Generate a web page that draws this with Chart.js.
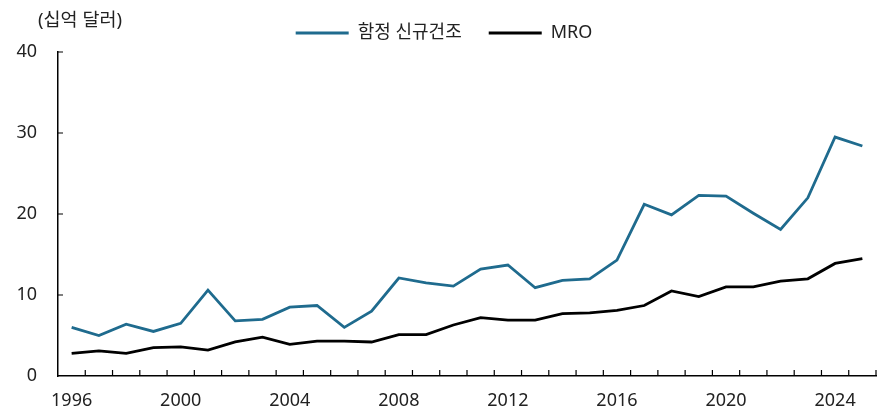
<!DOCTYPE html>
<html>
<head>
<meta charset="utf-8">
<script src="https://cdn.jsdelivr.net/npm/chart.js@4"></script>
<style>
  body { margin: 0; background: #fff; }
  #wrap { width: 878px; height: 409px; }
</style>
</head>
<body>
<div id="wrap"><canvas id="myChart" width="878" height="409"></canvas></div>
<script>
const years = [];
for (let y = 1996; y <= 2025; y++) years.push(String(y));

const newBuild = [6.0, 5.0, 6.4, 5.5, 6.5, 10.6, 6.8, 7.0, 8.5, 8.7,
                  6.0, 8.0, 12.1, 11.5, 11.1, 13.2, 13.7, 10.9, 11.8, 12.0,
                  14.3, 21.2, 19.9, 22.3, 22.2, 20.1, 18.1, 22.0, 29.5, 28.4];
const mro = [2.8, 3.1, 2.8, 3.5, 3.6, 3.2, 4.2, 4.8, 3.9, 4.3,
             4.3, 4.2, 5.1, 5.1, 6.3, 7.2, 6.9, 6.9, 7.7, 7.8,
             8.1, 8.7, 10.5, 9.8, 11.0, 11.0, 11.7, 12.0, 13.9, 14.5];
const seriesNames = ["함정 신규건조", "MRO"];
const yTicks = [0, 10, 20, 30, 40];
const unitLabel = "(십억 달러)";

const FONT = "'Noto Sans', 'Noto Sans CJK KR', sans-serif";

// ticks point inward, drawn from the scales
const innerTicks = {
  id: "innerTicks",
  afterDraw(chart) {
    const ctx = chart.ctx;
    const xs = chart.scales.x, ys = chart.scales.y;
    ctx.save();
    ctx.strokeStyle = "#000";
    ctx.lineWidth = 1.2;
    ctx.beginPath();
    const n = years.length;
    for (let i = 0; i < n; i++) {
      let bx = i < n - 1 ? (xs.getPixelForValue(i) + xs.getPixelForValue(i + 1)) / 2 : xs.right;
      ctx.moveTo(bx, ys.bottom);
      ctx.lineTo(bx, ys.bottom - 6);
    }
    yTicks.forEach(v => {
      if (v === 0) return;
      const py = ys.getPixelForValue(v);
      ctx.moveTo(xs.left, py);
      ctx.lineTo(xs.left + 5, py);
    });
    ctx.stroke();
    ctx.fillStyle = "#222";
    ctx.font = "18.5px " + FONT;
    ctx.textBaseline = "middle";
    ctx.textAlign = "left";
    ctx.fillText(unitLabel, 38, 21);
    ctx.restore();
  }
};

new Chart("myChart", {
  type: "line",
  data: {
    labels: years,
    datasets: [{
      label: seriesNames[0],
      data: newBuild,
      borderColor: "#1f6b8e",
      backgroundColor: "#1f6b8e",
      borderWidth: 2.8,
      pointRadius: 0,
      tension: 0
    }, {
      label: seriesNames[1],
      data: mro,
      borderColor: "#000",
      backgroundColor: "#000",
      borderWidth: 2.8,
      pointRadius: 0,
      tension: 0
    }]
  },
  options: {
    responsive: false,
    animation: false,
    layout: { padding: { top: -3, left: 12, right: 2, bottom: 0 } },
    plugins: {
      legend: {
        display: true,
        position: "top",
        maxHeight: 55,
        labels: {
          usePointStyle: true,
          pointStyle: "line",
          pointStyleWidth: 53,
          boxWidth: 53,
          padding: 27,
          color: "#222",
          font: { family: FONT, size: 18 }
        }
      },
      tooltip: { enabled: false }
    },
    scales: {
      x: {
        offset: true,
        grid: { display: false, offset: true, drawTicks: false },
        border: { display: true, color: "#000", width: 1.5 },
        ticks: {
          autoSkip: false,
          maxRotation: 0,
          padding: 14,
          color: "#222",
          font: { family: FONT, size: 18 },
          callback: (v, i) => i % 4 === 0 ? years[i] : ""
        },
        afterFit: s => { s.height = 33; }
      },
      y: {
        min: 0,
        max: 40,
        grid: { display: false, drawTicks: false },
        border: { display: true, color: "#000", width: 1.5 },
        ticks: {
          stepSize: 10,
          padding: 21,
          color: "#222",
          font: { family: FONT, size: 18 }
        },
        afterFit: s => { s.width = 46; }
      }
    }
  },
  plugins: [innerTicks]
});
</script>
</body>
</html>
